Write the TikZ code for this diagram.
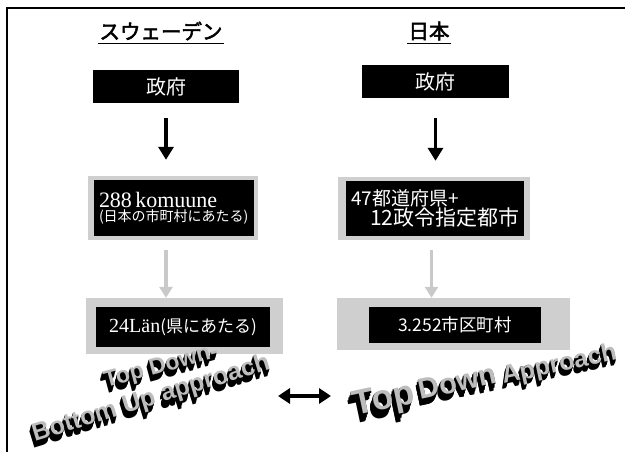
\documentclass[tikz,border=0pt]{standalone}
\usepackage{fontspec}
\setmainfont{Liberation Serif}
\newfontfamily\jp{Noto Sans CJK JP}
\newfontfamily\jpb[FakeBold=2.5]{Noto Sans CJK JP}
\newfontfamily\wafont{Liberation Sans}
\usetikzlibrary{arrows.meta}
% stacked copies of a text, shifted down-left, then the face on top
\newcommand\extrude[4]{% #1 steps, #2 dx per step, #3 dy per step, #4 text
  \foreach \k in {#1,...,1}{\rlap{\hspace*{-\k\dimexpr#2pt\relax}\raisebox{-\k\dimexpr#3pt\relax}{\color{black}#4}}}%
  \textcolor{gray!52}{#4}}
\begin{document}
\begin{tikzpicture}[x=1pt,y=-1pt,
  blackbox/.style={fill=black, text=white, inner ysep=0pt, rectangle},
  shadebg/.style={fill=gray!38, draw=none},
  headtxt/.style={inner sep=1pt, font=\jpb\fontsize{20.5}{22}\selectfont},
  bigarrow/.style={line width=3.2pt, -{Triangle[length=13pt,width=15pt]}},
  lightarrow/.style={draw=gray!42, line width=3.2pt, -{Triangle[length=11pt,width=13pt]}},
  dblarrow/.style={line width=3.2pt, {Triangle[length=12pt,width=15pt]}-{Triangle[length=12pt,width=15pt]}},
  wa/.style={font=\wafont\bfseries\fontsize{#1}{#1}\selectfont, inner sep=0pt}]
\useasboundingbox (0,0) rectangle (625,452);
% frame
\draw[line width=1.4pt] (7,452) -- (7,8) -- (625,8);

% headings
\node[headtxt] (hs) at (161,31) {スウェーデン};
\draw[line width=1.3pt] ([yshift=-2pt]hs.south west) -- ([yshift=-2pt]hs.south east);
\node[headtxt] (hj) at (429,31) {日本};
\draw[line width=1.3pt] ([yshift=-2pt]hj.south west) -- ([yshift=-2pt]hj.south east);

% row 1
\node[blackbox, minimum width=146pt, minimum height=33pt, font=\jp\fontsize{20}{22}\selectfont] (gs) at (166,86.5) {政府};
\node[blackbox, minimum width=147pt, minimum height=33pt, font=\jp\fontsize{20}{22}\selectfont] (gj) at (435.5,81.5) {政府};

% row 2
\fill[shadebg] (88,176) rectangle (258,240);
\node[blackbox, text width=150pt, inner xsep=5pt, minimum height=56pt, align=left] (ks) at (174,208)
  {{\fontsize{22}{23}\selectfont 288 komuune}\\[1pt]{\jp\fontsize{14}{16}\selectfont (日本の市町村にあたる)}};
\fill[shadebg] (338,177) rectangle (530,240);
\node[blackbox, text width=168pt, inner xsep=5pt, minimum height=55pt, align=left] (kj) at (435,208.5)
  {{\jp\fontsize{19}{21}\selectfont 47都道府県+}\\[-1pt]{\jp\fontsize{21}{23}\selectfont\hspace*{19pt}12政令指定都市}};

% row 3
\fill[shadebg] (86,298) rectangle (283,354);
\node[blackbox, minimum width=174pt, minimum height=40pt] (ls) at (183,327)
  {{\fontsize{20}{22}\selectfont 24Län}{\jp\fontsize{17}{19}\selectfont (県にあたる)}};
\fill[shadebg] (337,298) rectangle (570,350);
\node[blackbox, minimum width=172pt, minimum height=36pt, font=\jp\fontsize{17.5}{19}\selectfont] (lj) at (455,325) {3.252市区町村};

% arrows
\draw[bigarrow, shorten <=15pt, shorten >=20pt] (gs.south) -- (gs.south |- ks.north);
\draw[bigarrow, shorten <=20pt, shorten >=20pt] (gj.south) -- (gj.south |- kj.north);
\draw[lightarrow, shorten <=14pt, shorten >=9pt] (gs.south |- ks.south) -- (gs.south |- ls.north);
\draw[lightarrow, shorten <=14pt, shorten >=9pt] ([xshift=-4pt]gj.south |- kj.south) -- ([xshift=-4pt]gj.south |- lj.north);

% word art left
\node[wa=23, rotate=15] (tdb) at (162,370) {\extrude{7}{0.55}{0.9}{Top Down-}};
\node[wa=25, rotate=17] (bua) at (152,402) {\extrude{7}{0.55}{0.9}{Bottom Up approach}};

% word art right
\node[wa=35, rotate=12] (tw) at (385,405) {\extrude{8}{0.6}{1.0}{Top}};
\node[wa=29, rotate=12] (dw) at (458,385) {\extrude{8}{0.5}{0.85}{Down}};
\node[wa=25, rotate=12] (aw) at (560,368) {\extrude{7}{0.45}{0.75}{Approach}};

% double arrow
\coordinate (dal) at (278,396);
\coordinate (dar) at (331,396);
\draw[dblarrow] (dal) -- (dar);
\end{tikzpicture}
\end{document}
